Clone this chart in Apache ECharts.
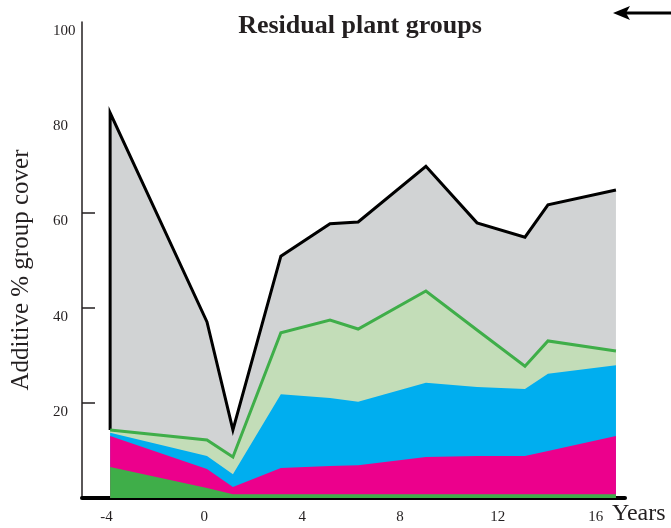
<!DOCTYPE html>
<html>
<head>
<meta charset="utf-8">
<script src="https://cdn.jsdelivr.net/npm/echarts@6/dist/echarts.min.js"></script>
<style>
  html, body { margin: 0; padding: 0; background: #ffffff; }
  #chart { width: 671px; height: 528px; }
</style>
</head>
<body>
<div id="chart"></div>
<script>
// Survey years (relative to treatment)
var years = [-3.85, 0.11, 1.17, 3.13, 5.14, 6.29, 9.06, 11.15, 13.11, 14.05, 16.83];

// % cover of each plant group, listed bottom to top of the stack
var darkGreenGroup  = [6.5, 2.1, 0.8, 0.8, 0.8, 0.8, 0.8, 0.8, 0.8, 0.8, 0.8];
var pinkGroup       = [6.5, 4.0, 1.5, 5.5, 5.9, 6.1, 7.8, 8.0, 8.0, 9.1, 12.2];
var blueGroup       = [0.7, 2.7, 2.7, 15.5, 14.3, 13.3, 15.6, 14.5, 14.1, 16.2, 14.9];
var lightGreenGroup = [0.6, 3.4, 3.6, 12.9, 16.4, 15.3, 19.3, 12.0, 4.8, 6.9, 3.0];
var greyGroup       = [66.6, 24.8, 5.7, 16.1, 20.2, 22.5, 26.2, 22.5, 27.1, 28.6, 33.8];

var xTickLabels = [-4, 0, 4, 8, 12, 16];
var yTickLabels = [20, 40, 60, 80, 100];
var yTickMarks = [20, 40, 60];

var serif = "'Liberation Serif', 'Times New Roman', serif";
var ink = '#231f20';

// Running totals: each layer's upper boundary
var groups = [darkGreenGroup, pinkGroup, blueGroup, lightGreenGroup, greyGroup];
var cumulative = [];
var running = years.map(function () { return 0; });
groups.forEach(function (g) {
  running = running.map(function (v, i) { return +(v + g[i]).toFixed(2); });
  cumulative.push(running.slice());
});

function pairs(vals) {
  return years.map(function (x, i) { return [x, vals[i]]; });
}

// Total outline also drops vertically at the first year down to the light-green layer
var totalData = [[years[0], cumulative[3][0]]].concat(pairs(cumulative[4]));

function layer(name, data, fill, line, z) {
  return {
    name: name,
    type: 'line',
    data: data,
    symbol: 'none',
    z: z,
    silent: true,
    lineStyle: line ? { color: line.color, width: line.width, join: 'miter' } : { width: 0, opacity: 0 },
    areaStyle: { color: fill, opacity: 1 }
  };
}

var chart = echarts.init(document.getElementById('chart'));
chart.setOption({
  animation: false,
  backgroundColor: '#ffffff',
  title: {
    text: 'Residual plant groups',
    left: 355,
    top: 8,
    textAlign: 'center',
    textStyle: { fontFamily: serif, fontWeight: 'bold', fontSize: 26, color: ink }
  },
  grid: { left: 82, right: 46, top: 22, bottom: 30, containLabel: false, outerBoundsMode: 'none' },
  xAxis: {
    type: 'value',
    min: -5,
    max: 17.2,
    name: 'Years',
    nameLocation: 'end',
    nameGap: -13,
    nameTextStyle: { fontFamily: serif, fontSize: 24, color: ink, align: 'left', verticalAlign: 'top', padding: [4, 0, 0, 0] },
    axisLine: { show: true, onZero: false, lineStyle: { color: '#000000', width: 4 } },
    axisTick: { show: false },
    axisLabel: { customValues: xTickLabels, margin: 12, fontFamily: serif, fontSize: 15, color: ink },
    splitLine: { show: false }
  },
  yAxis: {
    type: 'value',
    min: 0,
    max: 100,
    name: 'Additive % group cover',
    nameLocation: 'middle',
    nameGap: 48,
    nameMoveOverlap: false,
    nameTextStyle: { fontFamily: serif, fontSize: 25, color: ink, padding: [0, 20, 0, 0] },
    axisLine: { show: true, onZero: false, lineStyle: { color: '#231f20', width: 1.5 } },
    axisTick: { show: true, inside: true, length: 13, customValues: yTickMarks, lineStyle: { color: '#231f20', width: 1.5 } },
    axisLabel: { customValues: yTickLabels, margin: 29, align: 'left', verticalAlign: 'top', lineHeight: 18, fontFamily: serif, fontSize: 15, color: ink },
    splitLine: { show: false }
  },
  series: [
    layer('Grey group', totalData, '#d1d3d4', { color: '#000000', width: 3 }, 2),
    layer('Light green group', pairs(cumulative[3]), '#c3ddb8', { color: '#3fae49', width: 3 }, 3),
    layer('Blue group', pairs(cumulative[2]), '#00aeef', null, 4),
    layer('Pink group', pairs(cumulative[1]), '#ec008c', null, 5),
    layer('Dark green group', pairs(cumulative[0]), '#3fae49', null, 6)
  ],
  graphic: [
    {
      type: 'group',
      silent: true,
      children: [
        { type: 'line', shape: { x1: 624, y1: 13, x2: 671, y2: 13 }, style: { stroke: '#000000', lineWidth: 3 } },
        { type: 'polygon', shape: { points: [[613, 13], [630, 6], [626, 13], [630, 20]] }, style: { fill: '#000000' } }
      ]
    }
  ]
});
</script>
</body>
</html>
